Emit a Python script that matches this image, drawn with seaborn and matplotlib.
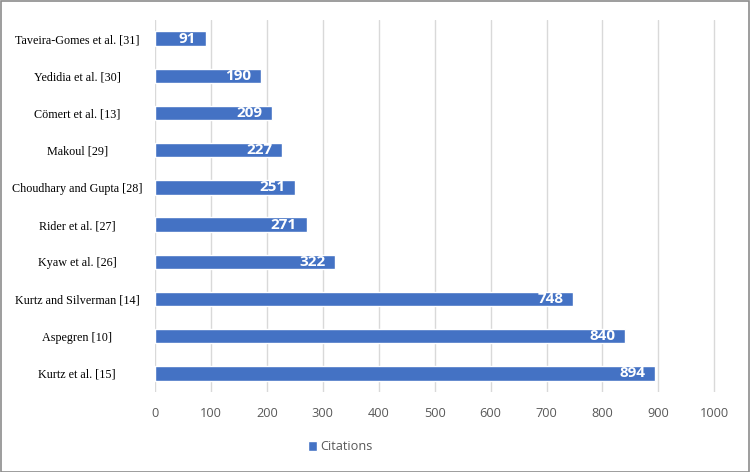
import pandas as pd
import matplotlib.pyplot as plt
import seaborn as sns
from matplotlib.patches import Rectangle

studies = ['Taveira-Gomes et al. [31]', 'Yedidia et al. [30]', 'Cömert et al. [13]',
           'Makoul [29]', 'Choudhary and Gupta [28]', 'Rider et al. [27]',
           'Kyaw et al. [26]', 'Kurtz and Silverman [14]', 'Aspegren [10]',
           'Kurtz et al. [15]']
citations = [91, 190, 209, 227, 251, 271, 322, 748, 840, 894]
x_ticks = [0, 100, 200, 300, 400, 500, 600, 700, 800, 900, 1000]

df = pd.DataFrame({'Study': studies, 'Citations': citations, 'Series': 'Citations'})

sns.set_style('white')
fig = plt.figure(figsize=(7.5, 4.72), dpi=100)
ax = fig.add_axes([155 / 750, 1 - 392 / 472, (716 - 155) / 750, (392 - 20) / 472])

sns.barplot(data=df, y='Study', x='Citations', hue='Series', palette=['#4472C4'],
            saturation=1, orient='h', width=0.39, ax=ax, legend=True)

ax.set_xlim(0, 1003)
ax.set_ylim(9.5, -0.5)
ax.set_xticks(x_ticks)
ax.set_xticklabels([str(t) for t in x_ticks], fontsize=9.2, color='#595959', family='Open Sans')
ax.tick_params(axis='x', length=0, pad=11)
ax.tick_params(axis='y', length=0, pad=56)
for lbl in ax.get_yticklabels():
    lbl.set_horizontalalignment('center')
    lbl.set_family('Liberation Serif')
    lbl.set_fontsize(8.7)
    lbl.set_color('#000000')
ax.xaxis.grid(True, color='#d9d9d9', linewidth=1)
ax.set_axisbelow(True)
for s in ax.spines.values():
    s.set_visible(False)
ax.set_xlabel('')
ax.set_ylabel('')

# value labels inside bar ends
for i, v in enumerate(citations):
    ax.annotate(str(v), xy=(v, i), xytext=(-7, 0), textcoords='offset points',
                ha='right', va='center', color='white', fontweight='bold',
                fontsize=11, family='Open Sans')

ax.legend_.remove()
handles, labels = ax.get_legend_handles_labels()
fig.legend(handles[:1], ['Citations'], loc='center', bbox_to_anchor=(340 / 750, 1 - 447 / 472),
           frameon=False, prop={'family': 'Open Sans', 'size': 9.2}, labelcolor='#595959',
           handlelength=0.75, handleheight=0.75, handletextpad=0.2)

fig.patches.append(Rectangle((0.001, 0.001), 0.997, 0.997, transform=fig.transFigure,
                             fill=False, edgecolor='#8c8c8c', linewidth=1.2))

fig.savefig('out.png', dpi=100)
